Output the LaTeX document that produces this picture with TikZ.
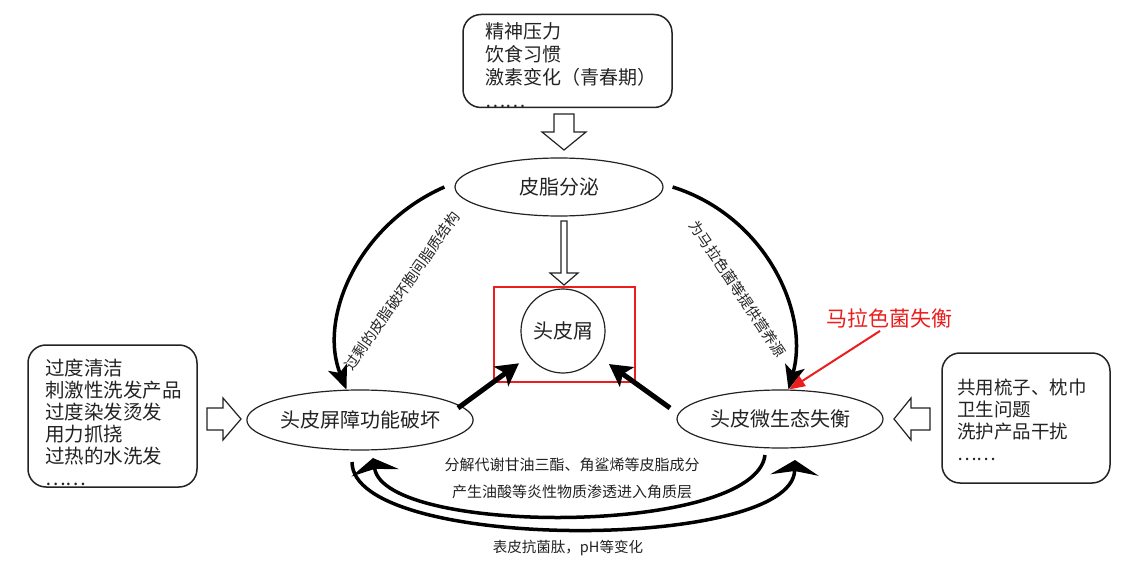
\documentclass[tikz,border=0pt]{standalone}
\usepackage{fontspec}
\setmainfont{Noto Sans CJK SC}
\usetikzlibrary{shapes.geometric,arrows.meta}
\definecolor{ink}{RGB}{35,35,35}
\definecolor{annot}{RGB}{235,30,30}
\begin{document}
\begin{tikzpicture}[x=1pt,y=-1pt,
  boxframe/.style={draw=ink,line width=1.5pt,rounded corners=18pt,inner sep=0pt},
  boxtext/.style={align=left,anchor=west,inner sep=0pt,text=ink},
  oval/.style={ellipse,draw=ink,line width=1.2pt,inner sep=0pt,text=ink,font=\fontsize{20}{24}\selectfont},
  hollow/.style={draw=ink,line width=1.2pt,fill=white,line join=miter},
  sidecurve/.style={draw=black,line width=3.5pt,-{Stealth[length=24pt,width=20pt,inset=6pt]}},
  bottomarc/.style={draw=black,line width=3.5pt,-{Stealth[length=15pt,width=48pt,inset=4pt]}},
  thickarrow/.style={draw=black,line width=5pt,-{Stealth[length=22pt,width=24pt,inset=5pt]}},
  curvelabel/.style={text=ink,inner sep=0pt,font=\fontsize{14.5}{18}\selectfont}
]
\useasboundingbox (0,0) rectangle (1125,564);
\fill[white] (0,0) rectangle (1125,564);

% boxes
\node[boxframe, minimum width=209pt, minimum height=93pt] (topbox) at (567.5,61) {};
\node[boxtext, font=\fontsize{19}{23}\selectfont] (toptext) at (485,65) {精神压力\\饮食习惯\\激素变化（青春期）\\……};
\node[boxframe, minimum width=169pt, minimum height=142pt] (leftbox) at (112.5,416) {};
\node[boxtext, font=\fontsize{19.5}{22}\selectfont] (lefttext) at (45,422) {过度清洁\\刺激性洗发产品\\过度染发烫发\\用力抓挠\\过热的水洗发\\……};
\node[boxframe, minimum width=168pt, minimum height=130pt] (rightbox) at (1026,418) {};
\node[boxtext, font=\fontsize{18.5}{22}\selectfont] (righttext) at (957,420) {共用梳子、枕巾\\卫生问题\\洗护产品干扰\\……};

% ovals and circle
\node[oval, minimum width=208pt, minimum height=58pt] (sebum) at (559,187) {皮脂分泌};
\node[oval, minimum width=206pt, minimum height=60pt] (barrier) at (360,420) {头皮屏障功能破坏};
\node[oval, minimum width=206pt, minimum height=58pt] (micro) at (780,419) {头皮微生态失衡};
\node[circle, draw=ink, line width=1.2pt, minimum size=84pt, inner sep=0pt, text=ink, font=\fontsize{20}{24}\selectfont] (dandruff) at (563,331) {头皮屑};
\draw[annot, line width=2pt] (494,287) rectangle (635,382);

% hollow arrows
\draw[hollow] (554,114) -- (574,114) -- (574,132) -- (586,132) -- (564,150) -- (542,132) -- (554,132) -- cycle;
\draw[hollow] (207,408) -- (223,408) -- (223,398) -- (241,419) -- (223,440) -- (223,430) -- (207,430) -- cycle;
\draw[hollow] (930,408) -- (911,408) -- (911,398) -- (894,419) -- (911,440) -- (911,430) -- (930,430) -- cycle;
\draw[hollow] (561,221) -- (567,221) -- (567,273) -- (578,273) -- (564,285) -- (550,273) -- (561,273) -- cycle;

% side curves
\draw[sidecurve] ([xshift=-10pt]sebum.west) .. controls (358,225) and (318,318) .. (barrier.114);
\draw[sidecurve] ([xshift=9pt]sebum.east) .. controls (765,216) and (810,312) .. (micro.74);
\node[curvelabel, rotate=55] (leftlabel) at (402,291) {过剩的皮脂破坏胞间脂质结构};
\node[curvelabel, rotate=-56] (rightlabel) at (738,289) {为马拉色菌等提供营养源};

% thick straight arrows
\coordinate (lstart) at (458,408);
\coordinate (rstart) at (670,408);
\draw[thickarrow, shorten >=12pt] (lstart) -- (dandruff);
\draw[thickarrow, shorten >=14pt] (rstart) -- (dandruff);

% bottom arcs
\coordinate (innerstart) at (765,455);
\coordinate (innerend) at (373,458);
\coordinate (outerstart) at (352,462);
\coordinate (outerend) at (795,460);
\draw[bottomarc] (innerstart) .. controls (755,536) and (385,536) .. (innerend);
\draw[bottomarc] (outerstart) .. controls (352,552) and (792,552) .. (outerend);
\node[text=ink, align=center, font=\fontsize{15}{27}\selectfont] (midtext) at (572,478) {分解代谢甘油三酯、角鲨烯等皮脂成分\\产生油酸等炎性物质渗透进入角质层};
\node[text=ink, font=\fontsize{14.5}{17}\selectfont] (bottomtext) at (568,548) {表皮抗菌肽，pH等变化};

% red annotation
\node[text=annot, inner sep=0pt, font=\fontsize{21}{25}\selectfont] (mlabel) at (889,318) {马拉色菌失衡};
\draw[annot, line width=2pt, -{Triangle[length=16pt,width=12pt]}] ([xshift=-9pt,yshift=-3pt]mlabel.south) -- (micro.73);
\end{tikzpicture}
\end{document}
